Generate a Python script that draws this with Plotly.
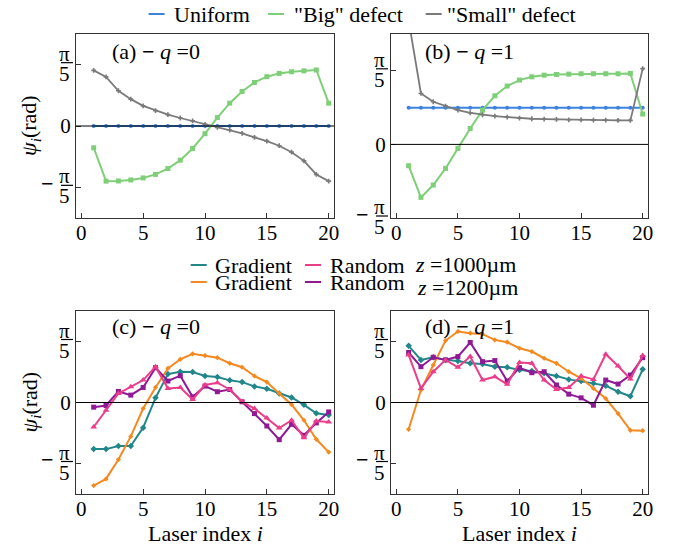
import math
import plotly.graph_objects as go

# ---------------- data (radians) ----------------
laser_index = list(range(1, 21))

# (a) q = 0
a_uniform = [0.0] * 20
a_big = [-0.223, -0.565, -0.563, -0.553, -0.532, -0.496, -0.436, -0.350, -0.230, -0.079,
         0.086, 0.234, 0.354, 0.446, 0.505, 0.539, 0.556, 0.565, 0.574, 0.234]
a_small = [0.570, 0.503, 0.361, 0.275, 0.206, 0.158, 0.117, 0.082, 0.052, 0.017,
           -0.014, -0.041, -0.075, -0.117, -0.155, -0.202, -0.268, -0.357, -0.496, -0.565]

# (b) q = 1
b_uniform = [0.313] * 20
b_big = [-0.182, -0.452, -0.347, -0.205, -0.034, 0.136, 0.293, 0.415, 0.498, 0.549,
         0.577, 0.591, 0.597, 0.600, 0.603, 0.603, 0.603, 0.603, 0.606, 0.259]
b_small = [1.060, 0.435, 0.364, 0.327, 0.293, 0.270, 0.253, 0.242, 0.233, 0.224,
           0.219, 0.216, 0.213, 0.210, 0.210, 0.207, 0.207, 0.205, 0.205, 0.647]

# (c) q = 0
c_grad_1000 = [-0.480, -0.480, -0.449, -0.449, -0.259, 0.048, 0.293, 0.317, 0.314, 0.273,
               0.263, 0.228, 0.210, 0.166, 0.141, 0.093, 0.052, -0.024, -0.111, -0.128]
c_grad_1200 = [-0.856, -0.787, -0.587, -0.349, -0.062, 0.155, 0.352, 0.445, 0.501, 0.483,
               0.462, 0.404, 0.363, 0.273, 0.210, 0.093, -0.021, -0.183, -0.379, -0.511]
c_rand_1000 = [-0.252, -0.079, 0.093, 0.162, 0.231, 0.369, 0.145, 0.155, 0.031, 0.180,
               0.204, 0.134, 0.007, -0.062, -0.159, -0.263, -0.183, -0.363, -0.190, -0.200]
c_rand_1200 = [-0.048, -0.031, 0.114, 0.076, 0.155, 0.359, 0.221, 0.276, 0.058, 0.169,
               0.111, 0.134, 0.007, -0.114, -0.242, -0.383, -0.224, -0.338, -0.210, -0.097]

# (d) q = 1
d_grad_1000 = [0.584, 0.439, 0.466, 0.439, 0.428, 0.404, 0.397, 0.369, 0.363, 0.335,
               0.324, 0.300, 0.273, 0.238, 0.221, 0.197, 0.173, 0.111, 0.065, 0.342]
d_grad_1200 = [-0.276, 0.128, 0.386, 0.638, 0.732, 0.714, 0.704, 0.645, 0.621, 0.559,
               0.525, 0.456, 0.404, 0.317, 0.249, 0.145, 0.041, -0.114, -0.287, -0.290]
d_rand_1000 = [0.490, 0.145, 0.317, 0.439, 0.363, 0.473, 0.231, 0.266, 0.187, 0.411,
               0.404, 0.231, 0.134, 0.155, 0.273, 0.238, 0.497, 0.376, 0.242, 0.483]
d_rand_1200 = [0.515, 0.369, 0.466, 0.439, 0.473, 0.618, 0.421, 0.432, 0.221, 0.359,
               0.307, 0.317, 0.180, 0.086, 0.048, -0.028, 0.231, 0.190, 0.283, 0.462]

x_ticks = [0, 5, 10, 15, 20]
panel_labels = ["(a) <b>−</b> <i>q</i> =0", "(b) <b>−</b> <i>q</i> =1",
                "(c) <b>−</b> <i>q</i> =0", "(d) <b>−</b> <i>q</i> =1"]
top_legend_names = ["Uniform", "\"Big\" defect", "\"Small\" defect"]
bottom_legend_names = ["Gradient", "Random", "Gradient", "Random"]
z_labels = ["<i>z</i> =1000µm", "<i>z</i> =1200µm"]

# ---------------- style ----------------
W, H = 686, 552
FONT = "Liberation Serif"
C_UNI = "#3d82e0"
C_BIG = "#7fcf78"
C_SMALL = "#7a7a7a"
C_TEAL = "#21868a"
C_ORANGE = "#f5891f"
C_PINK = "#ea3d8a"
C_PURPLE = "#8e1a96"
FRAME = "#333333"
P = math.pi / 5

def px(x):
    return x / W

def py(y):
    return 1 - y / H

dom_x = {1: (px(76), px(334)), 2: (px(391), px(648)), 3: (px(76), px(334)), 4: (px(391), px(648))}
dom_y = {1: (py(218), py(34)), 2: (py(218), py(34)), 3: (py(494), py(311)), 4: (py(494), py(311))}
y_ranges = {1: (-1.5 * P, 1.5 * P), 2: (-1.0 * P, 1.5 * P), 3: (-1.5 * P, 1.5 * P), 4: (-1.5 * P, 1.5 * P)}
x_range = (-0.43, 20.43)

fig = go.Figure()

def ax(n, kind):
    return kind if n == 1 else f"{kind}{n}"

def add_line(n, y, color, symbol, msize, width=2.0):
    fig.add_trace(go.Scatter(
        x=laser_index, y=y, mode="lines+markers",
        line=dict(color=color, width=width),
        marker=dict(color=color, symbol=symbol, size=msize, line=dict(width=0)),
        xaxis=ax(n, "x"), yaxis=ax(n, "y"), showlegend=False, cliponaxis=True))

# (a)
add_line(1, a_uniform, C_UNI, "circle", 4)
add_line(1, a_big, C_BIG, "square", 5)
add_line(1, a_small, C_SMALL, "cross", 4, 1.8)
# (b)
add_line(2, b_uniform, C_UNI, "circle", 4)
add_line(2, b_big, C_BIG, "square", 5)
add_line(2, b_small, C_SMALL, "cross", 4, 1.8)
# (c)
add_line(3, c_grad_1000, C_TEAL, "diamond", 5)
add_line(3, c_grad_1200, C_ORANGE, "diamond", 4)
add_line(3, c_rand_1200, C_PURPLE, "square", 5)
add_line(3, c_rand_1000, C_PINK, "triangle-up", 6)
# (d)
add_line(4, d_grad_1000, C_TEAL, "diamond", 5)
add_line(4, d_grad_1200, C_ORANGE, "diamond", 4)
add_line(4, d_rand_1200, C_PURPLE, "square", 5)
add_line(4, d_rand_1000, C_PINK, "triangle-up", 6)

layout = dict(
    template="none",
    width=W, height=H, margin=dict(l=0, r=0, t=0, b=0),
    paper_bgcolor="white", plot_bgcolor="white", showlegend=False,
    font=dict(family=FONT, size=21, color="black"),
)
for n in range(1, 5):
    xa = "xaxis" if n == 1 else f"xaxis{n}"
    ya = "yaxis" if n == 1 else f"yaxis{n}"
    layout[xa] = dict(
        domain=list(dom_x[n]), range=list(x_range), anchor=ax(n, "y"),
        tickvals=x_ticks, ticks="inside", ticklen=5, tickwidth=1, tickcolor=FRAME,
        showline=True, linecolor=FRAME, linewidth=1, mirror=True,
        showgrid=False, zeroline=False, tickfont=dict(family=FONT, size=21, color="black"),
        ticklabelstandoff=-4,
    )
    layout[ya] = dict(
        domain=list(dom_y[n]), range=list(y_ranges[n]), anchor=ax(n, "x"),
        tickvals=[-P, 0, P], ticktext=[" ", "0", " "],
        ticks="inside", ticklen=5, tickwidth=1, tickcolor=FRAME,
        showline=True, linecolor=FRAME, linewidth=1, mirror=True,
        showgrid=False, zeroline=False, tickfont=dict(family=FONT, size=21, color="black"),
    )
fig.update_layout(**layout)

annotations = []
shapes = []

def y_to_paper(n, v):
    r0, r1 = y_ranges[n]
    d0, d1 = dom_y[n]
    return d0 + (v - r0) / (r1 - r0) * (d1 - d0)

def afont(size=22):
    return dict(family=FONT, size=size, color="black")

for n in range(1, 5):
    x0 = dom_x[n][0]
    # zero line
    shapes.append(dict(type="line", xref=f"{ax(n, 'x')} domain", yref=ax(n, "y"),
                       x0=0, x1=1, y0=0, y1=0, line=dict(color="black", width=1), layer="above"))
    # fraction tick labels for +/- pi/5
    for v in (P, -P):
        annotations.append(dict(text="π", xref="paper", x=x0, xanchor="right", xshift=-4,
                                yref=ax(n, "y"), y=v, yanchor="middle", yshift=11,
                                showarrow=False, font=afont(21)))
        annotations.append(dict(text="5", xref="paper", x=x0, xanchor="right", xshift=-4,
                                yref=ax(n, "y"), y=v, yanchor="middle", yshift=-9,
                                showarrow=False, font=afont(21)))
        yp = y_to_paper(n, v) + 2.0 / H
        shapes.append(dict(type="line", xref="paper", yref="paper",
                           x0=x0 - 15.0 / W, x1=x0 - 3.0 / W, y0=yp, y1=yp,
                           line=dict(color="black", width=1.2), layer="above"))
        if v < 0:
            annotations.append(dict(text="<b>−</b>", xref="paper", x=x0, xanchor="right", xshift=-20,
                                    yref=ax(n, "y"), y=v, yanchor="middle", yshift=4,
                                    showarrow=False, font=afont(22)))
    # panel label
    annotations.append(dict(text=panel_labels[n - 1], xref="paper", yref="paper",
                            x=px(110) if n in (1, 3) else px(423),
                            y=py(52) if n in (1, 2) else py(326),
                            xanchor="left", yanchor="middle", showarrow=False,
                            font=afont(22)))

# y-axis titles
for n in (1, 3):
    annotations.append(dict(text="<i>ψ</i><sub><i>i</i></sub>(rad)", xref="paper", yref="paper",
                            x=px(30), y=(dom_y[n][0] + dom_y[n][1]) / 2,
                            xanchor="center", yanchor="middle", textangle=-90, showarrow=False,
                            font=afont(22)))
# x-axis titles
for n in (3, 4):
    annotations.append(dict(text="Laser index <i>i</i>", xref="paper", yref="paper",
                            x=(dom_x[n][0] + dom_x[n][1]) / 2, y=py(533),
                            xanchor="center", yanchor="middle", showarrow=False,
                            font=afont(22)))

# top legend
top_items = [(C_UNI, 148.6, 171.5), (C_BIG, 268, 292), (C_SMALL, 425.7, 445)]
for (col, lx, tx), name in zip(top_items, top_legend_names):
    shapes.append(dict(type="line", xref="paper", yref="paper",
                       x0=px(lx), x1=px(lx + 16), y0=py(14), y1=py(14),
                       line=dict(color=col, width=2)))
    annotations.append(dict(text=name, xref="paper", yref="paper", x=px(tx), y=py(14),
                            xanchor="left", yanchor="middle", showarrow=False,
                            font=afont(22)))

# bottom legend
bot_items = [(C_TEAL, 190.7, 213, 265), (C_PINK, 305, 328, 265),
             (C_ORANGE, 190.7, 213, 282), (C_PURPLE, 305, 328, 282)]
for (col, lx, tx, yy), name in zip(bot_items, bottom_legend_names):
    shapes.append(dict(type="line", xref="paper", yref="paper",
                       x0=px(lx), x1=px(lx + 16), y0=py(yy), y1=py(yy),
                       line=dict(color=col, width=2)))
    annotations.append(dict(text=name, xref="paper", yref="paper", x=px(tx), y=py(yy),
                            xanchor="left", yanchor="middle", showarrow=False,
                            font=afont(22)))
annotations.append(dict(text=z_labels[0], xref="paper", yref="paper", x=px(413), y=py(264),
                        xanchor="left", yanchor="middle", showarrow=False, font=afont(22)))
annotations.append(dict(text=z_labels[1], xref="paper", yref="paper", x=px(415), y=py(287),
                        xanchor="left", yanchor="middle", showarrow=False, font=afont(22)))

fig.update_layout(annotations=annotations, shapes=shapes)
fig.write_html("out.html", config={"displayModeBar": False},
               post_script="document.body.style.margin='0';document.body.style.padding='0';")
